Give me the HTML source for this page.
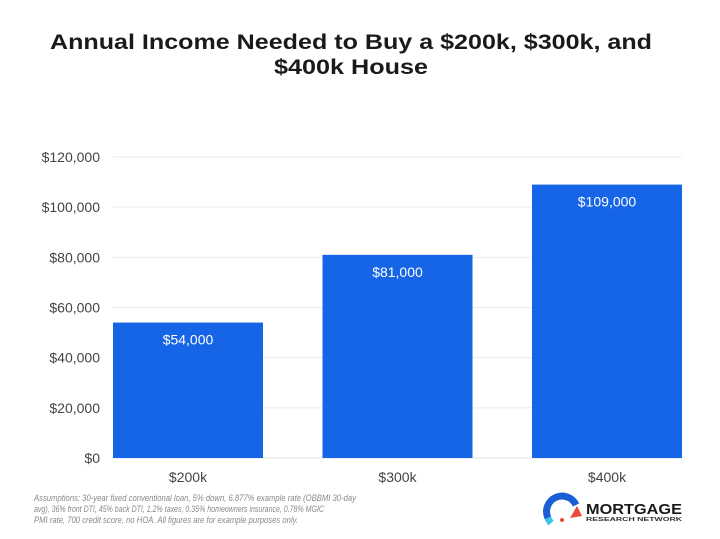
<!DOCTYPE html>
<html><head><meta charset="utf-8"><style>
html,body{margin:0;padding:0;background:#fff;}
svg{display:block;font-family:"Liberation Sans",sans-serif;}
</style></head><body>
<svg id="chart" width="720" height="539" viewBox="0 0 720 539" xmlns="http://www.w3.org/2000/svg">
<rect width="720" height="539" fill="#fff"/>
<text x="351" y="49" text-anchor="middle" font-size="21" font-weight="bold" fill="#1a1a1a" textLength="602" lengthAdjust="spacingAndGlyphs">Annual Income Needed to Buy a $200k, $300k, and</text>
<text x="351" y="74" text-anchor="middle" font-size="21" font-weight="bold" fill="#1a1a1a" textLength="154" lengthAdjust="spacingAndGlyphs">$400k House</text>
<g id="grid"></g><g id="bars"></g><g id="xlabels"></g>
<text font-size="9" font-style="italic" fill="#888">
<tspan x="34" y="501" textLength="322" lengthAdjust="spacingAndGlyphs">Assumptions: 30-year fixed conventional loan, 5% down, 6.877% example rate (OBBMI 30-day</tspan>
<tspan x="34" y="512" textLength="290" lengthAdjust="spacingAndGlyphs">avg), 36% front DTI, 45% back DTI, 1.2% taxes, 0.35% homeowners insurance, 0.78% MGIC</tspan>
<tspan x="34" y="523" textLength="264" lengthAdjust="spacingAndGlyphs">PMI rate, 700 credit score, no HOA. All figures are for example purposes only.</tspan>
</text>
<g>
<path d="M548,518 A15,15 0 0 1 576,505" stroke="#1a5fd6" stroke-width="7" fill="none"/>
<path d="M548,518 A15,15 0 0 0 551,523" stroke="#3ac5e8" stroke-width="7" fill="none"/>
<path d="M577,506 L582,516 L570,518 Z" fill="#e84b3a"/>
<circle cx="562" cy="520" r="2" fill="#e84b3a"/>
<text x="586" y="514" font-size="15" font-weight="bold" fill="#1a1a1a" textLength="96" lengthAdjust="spacingAndGlyphs">MORTGAGE</text>
<text x="586" y="521" font-size="5.5" font-weight="bold" fill="#333" textLength="96" lengthAdjust="spacingAndGlyphs">RESEARCH NETWORK</text>
</g>
</svg>
<script>
const categories = ["$200k","$300k","$400k"];
const values = [54000,81000,109000];
const valueLabels = ["$54,000","$81,000","$109,000"];
const ticks = [0,20000,40000,60000,80000,100000,120000];
const tickLabels = ["$0","$20,000","$40,000","$60,000","$80,000","$100,000","$120,000"];
const NS="http://www.w3.org/2000/svg";
const y0=458, yTop=157, maxV=120000, xL=113, xR=682, barW=150;
const y=v=>y0-(v/maxV)*(y0-yTop);
const step=(xR-xL-barW)/(categories.length-1);
const x=i=>xL+i*step;
function mk(tag,attrs,parent){const e=document.createElementNS(NS,tag);for(const k in attrs)e.setAttribute(k,attrs[k]);parent.appendChild(e);return e;}
const grid=document.getElementById('grid'),bars=document.getElementById('bars'),xl=document.getElementById('xlabels');
ticks.forEach((t,i)=>{
  const l=mk('line',{x1:xL,x2:xR,y1:y(t),y2:y(t),stroke:i===0?'#dde6f0':'#ebebeb','stroke-width':1},grid);
  
  
  const tx=mk('text',{x:100,y:y(t)+5,'text-anchor':'end','font-size':14,fill:'#444'},grid);
  tx.textContent=tickLabels[i];
  
  
});
values.forEach((v,i)=>{
  const r=mk('rect',{x:x(i),y:y(v),width:barW,height:y0-y(v),fill:'#1565e6'},bars);
  
  
  const t=mk('text',{x:x(i)+barW/2,y:y(v)+22,'text-anchor':'middle','font-size':14,fill:'#fff'},bars);
  t.textContent=valueLabels[i];
  
  
  const c=mk('text',{x:x(i)+barW/2,y:482,'text-anchor':'middle','font-size':14,fill:'#444'},xl);
  c.textContent=categories[i];
  
  
});
</script>
</body></html>
